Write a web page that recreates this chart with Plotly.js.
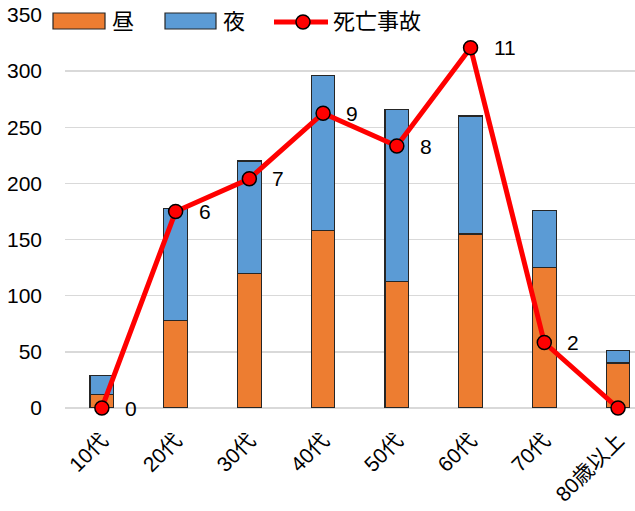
<!DOCTYPE html>
<html>
<head>
<meta charset="utf-8">
<script src="https://cdn.plot.ly/plotly-3.0.1.min.js"></script>
<style>html,body{margin:0;padding:0;background:#fff;}#chart{width:635px;height:511px;}</style>
</head>
<body>
<div id="chart"></div>
<script>
const categories = ['10代','20代','30代','40代','50代','60代','70代','80歳以上'];
const dayValues = [12, 78, 120, 158, 113, 155, 125, 40];
const nightValues = [17, 100, 100, 138, 153, 105, 51, 11];
const fatalValues = [0, 6, 7, 9, 8, 11, 2, 0];
const fatalLabels = ['0','6','7','9','8','11','2',''];
const yTicks = [0, 50, 100, 150, 200, 250, 300, 350];
const seriesNames = ['昼', '夜', '死亡事故'];

const FONT = '"Liberation Sans", "Noto Sans CJK JP", sans-serif';
const FS = 21;
const W = 635, H = 511;
const M = {l: 65, r: 0, t: 15, b: 103};
const PW = W - M.l - M.r, PH = H - M.t - M.b;
const px = x => (x - M.l) / PW;
const py = y => (H - M.b - y) / PH;

const COL_DAY = '#ED7D31', COL_NIGHT = '#5B9BD5', COL_RED = '#FF0000';
const barLine = {color: '#262626', width: 1.2};

const traces = [
  {type: 'bar', name: seriesNames[0], x: categories, y: dayValues, width: 0.32,
   marker: {color: COL_DAY, line: barLine}},
  {type: 'bar', name: seriesNames[1], x: categories, y: nightValues, width: 0.32,
   marker: {color: COL_NIGHT, line: barLine}},
  {type: 'scatter', mode: 'lines+markers', name: seriesNames[2], x: categories, y: fatalValues,
   yaxis: 'y2', cliponaxis: false,
   line: {color: COL_RED, width: 5},
   marker: {color: COL_RED, size: 14, line: {color: '#000', width: 1.5}}}
];

const annotations = categories.map((c, i) => ({
  x: c, y: fatalValues[i], xref: 'x', yref: 'y2', text: fatalLabels[i],
  showarrow: false, xanchor: 'left', yanchor: 'middle', xshift: 21,
  font: {family: FONT, size: FS, color: '#000'}
}));

// custom legend (pixel placement converted to paper coords)
const shapes = [
  {type: 'rect', xref: 'paper', yref: 'paper', x0: px(53), x1: px(105), y0: py(29), y1: py(13),
   fillcolor: COL_DAY, line: {color: '#262626', width: 1.2}},
  {type: 'rect', xref: 'paper', yref: 'paper', x0: px(165), x1: px(216), y0: py(29), y1: py(13),
   fillcolor: COL_NIGHT, line: {color: '#262626', width: 1.2}},
  {type: 'line', xref: 'paper', yref: 'paper', x0: px(274), x1: px(328), y0: py(22), y1: py(22),
   line: {color: COL_RED, width: 5}},
  {type: 'circle', xref: 'paper', yref: 'paper', x0: px(296), x1: px(310), y0: py(29), y1: py(15),
   fillcolor: COL_RED, line: {color: '#000', width: 1.5}}
];
const legendText = [[112, seriesNames[0]], [223, seriesNames[1]], [333, seriesNames[2]]];
legendText.forEach(([x, t]) => annotations.push({
  xref: 'paper', yref: 'paper', x: px(x), y: py(22), text: t, showarrow: false,
  xanchor: 'left', yanchor: 'middle', font: {family: FONT, size: 22, color: '#000'},
  borderpad: 0, borderwidth: 0
}));

const layout = {
  width: W, height: H,
  margin: M,
  barmode: 'stack',
  paper_bgcolor: '#fff', plot_bgcolor: '#fff',
  font: {family: FONT, size: FS, color: '#000'},
  showlegend: false,
  xaxis: {type: 'category', range: [-0.5, 7.23], tickangle: -45, showgrid: false, automargin: false,
          showline: false, ticks: '', ticklabelstandoff: 15, tickfont: {family: FONT, size: 21}},
  yaxis: {range: [0, 350], tickvals: yTicks, ticktext: yTicks.map(String), showline: false,
          gridcolor: '#D9D9D9', gridwidth: 1.5, zeroline: true, zerolinecolor: '#D9D9D9',
          zerolinewidth: 1.5, ticks: '', ticklabelstandoff: 22, tickfont: {family: FONT, size: FS}},
  yaxis2: {range: [0, 12], overlaying: 'y', side: 'right', visible: false, showgrid: false},
  shapes: shapes,
  annotations: annotations
};

Plotly.newPlot('chart', traces, layout, {displayModeBar: false, staticPlot: true});
</script>
</body>
</html>
